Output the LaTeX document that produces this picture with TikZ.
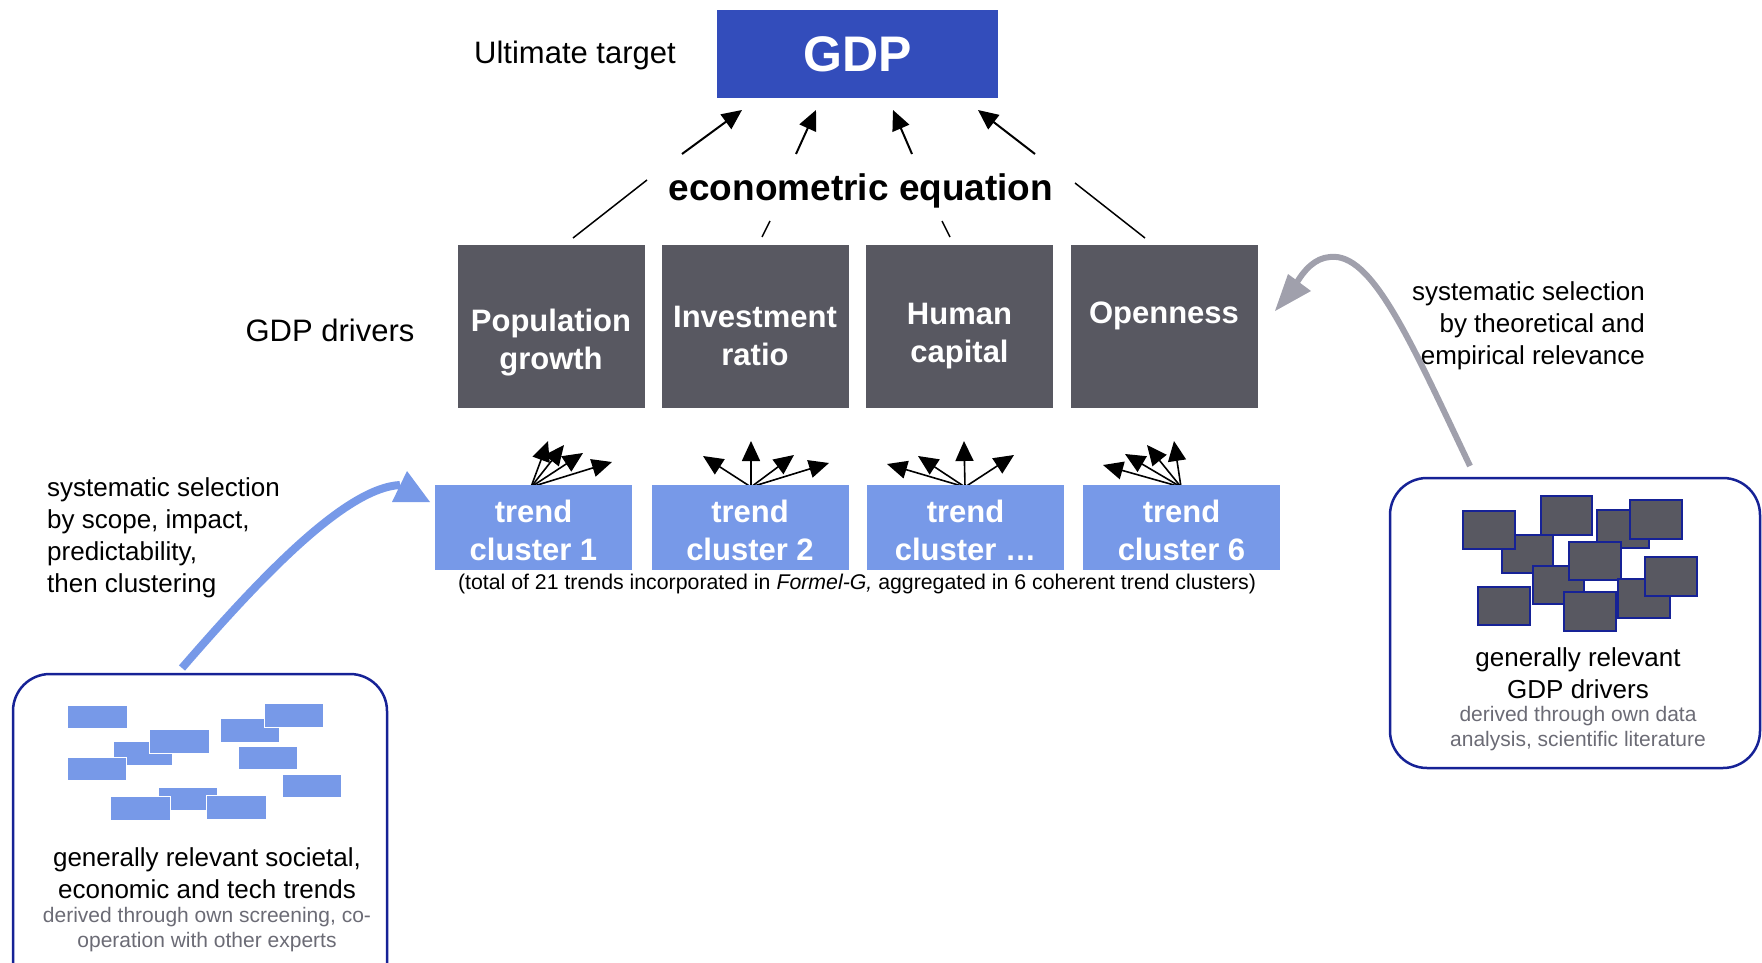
\documentclass[tikz,border=0pt]{standalone}
\usepackage{fontspec}
\setmainfont{Liberation Sans}
\usetikzlibrary{arrows.meta,calc}
\definecolor{gdpblue}{RGB}{51,77,187}
\definecolor{drvgray}{RGB}{88,88,97}
\definecolor{trblue}{RGB}{119,153,232}
\definecolor{navy}{RGB}{22,34,150}
\definecolor{argray}{RGB}{160,160,172}
\definecolor{txgray}{RGB}{107,107,117}
\begin{document}
\begin{tikzpicture}[x=1pt,y=-1pt,
  lbl/.style={inner sep=0, font=\fontsize{31}{38}\selectfont},
  side/.style={inner sep=0, font=\fontsize{26}{32}\selectfont},
  gtxt/.style={inner sep=0, text=txgray, align=center, font=\fontsize{21}{25}\selectfont},
  btxt/.style={inner sep=0, align=center, font=\fontsize{26}{32}\selectfont},
  wtxt/.style={inner sep=0, text=white, align=center, font=\bfseries\fontsize{31}{38}\selectfont},
  drvbox/.style={fill=drvgray, minimum width=187, minimum height=163, inner sep=0},
  trbox/.style={fill=trblue, minimum width=197, minimum height=85, inner sep=0},
  upar/.style={-{Triangle[length=20pt,width=18pt]}, line width=2pt},
  fan/.style={-{Triangle[length=20pt,width=18pt]}, line width=1.6pt},
  thin/.style={line width=1.5pt},
  scrib/.style={fill=trblue, draw=white, line width=1pt},
  drv/.style={fill=drvgray, draw=navy, line width=2.5pt},
  framebox/.style={draw=navy, line width=2.5pt, rounded corners=37pt}
]
\useasboundingbox (0,0) rectangle (1762,963);

% top
\node[fill=gdpblue, minimum width=281, minimum height=88, inner sep=0, text=white, font=\bfseries\fontsize{50}{60}\selectfont] (gdp) at (857.5,54) {GDP};
\node[lbl] (ult) at (575,55) {Ultimate target};
\node[inner sep=0, font=\bfseries\fontsize{37}{44}\selectfont] (eq) at (861,191) {econometric equation};

\coordinate (a1s) at (682,154); \coordinate (a1e) at (742,110);
\coordinate (a2s) at (796,154); \coordinate (a2e) at (816,110);
\coordinate (a3s) at (912,154); \coordinate (a3e) at (893,110);
\coordinate (a4s) at (1035,154); \coordinate (a4e) at (978,110);
\foreach \i in {1,...,4} \draw[upar] (a\i s) -- (a\i e);

% drivers
\node[lbl] (gdpd) at (330,330) {GDP drivers};
\node[drvbox] (pop) at (551,326.5) {};
\node[drvbox] (inv) at (755,326.5) {};
\node[drvbox] (hum) at (959.5,326.5) {};
\node[drvbox] (opn) at (1164,326.5) {};
\node[wtxt] (popt) at (551,343) {Population\\growth};
\node[wtxt] (invt) at (755,336) {Investment\\ratio};
\node[wtxt] (humt) at (959.5,336) {Human\\capital};
\node[wtxt] (opnt) at (1164,316) {Openness};

\coordinate (l1s) at (573,238); \coordinate (l1e) at (647,180);
\coordinate (l2s) at (762,237); \coordinate (l2e) at (770,221);
\coordinate (l3s) at (950,237); \coordinate (l3e) at (942,221);
\coordinate (l4s) at (1145,238); \coordinate (l4e) at (1075,183);
\foreach \i in {1,...,4} \draw[thin] (l\i s) -- (l\i e);

% fans (drawn first; their common origin sits on the box top)
\coordinate (o1) at (531,487); \coordinate (o2) at (751,487);
\coordinate (o3) at (965,487); \coordinate (o4) at (1181,487);
\foreach \k/\dx/\dy [count=\c] in {1/17/-46,1/33/-42,1/52/-34,1/81/-25,
  2/-48/-31,2/0/-46,2/43/-32,2/78/-24,
  3/-78/-23,3/-47/-31,3/-1/-46,3/49/-32,
  4/-78/-22,4/-56/-33,4/-34/-42,4/-7/-46} {
  \coordinate (ft\c) at ($(o\k)+(\dx,\dy)$);
  \draw[fan] (o\k) -- (ft\c);
}

% trend clusters
\node[trbox] (t1) at (533.5,527.5) {};
\node[trbox] (t2) at (750,527.5) {};
\node[trbox] (t3) at (965.5,527.5) {};
\node[trbox] (t4) at (1181.5,527.5) {};
\node[wtxt] (t1t) at (533.5,530.5) {trend\\cluster 1};
\node[wtxt] (t2t) at (750,530.5) {trend\\cluster 2};
\node[wtxt] (t3t) at (965.5,530.5) {trend\\cluster \ldots};
\node[wtxt] (t4t) at (1181.5,530.5) {trend\\cluster 6};
\node[inner sep=0, font=\fontsize{21.3}{25}\selectfont] (note) at (857,584) {(total of 21 trends incorporated in \textit{Formel-G,} aggregated in 6 coherent trend clusters)};

% left side text and arrow
\node[side, anchor=west, align=left] (lsel) at (47,538) {systematic selection\\by scope, impact,\\predictability,\\then clustering};
\coordinate (lbs) at (182,668);
\coordinate (lbe) at (400,485);
\draw[trblue, line width=8pt] (lbs) .. controls (260,578) and (345,488) .. (lbe);
\fill[trblue] (392,502) -- (430,502) -- (407,471) -- cycle;

% right side text and arrow
\node[side, anchor=east, align=right] (rsel) at (1645,326) {systematic selection\\by theoretical and\\empirical relevance};
\coordinate (rbs) at (1470,466);
\coordinate (rbp) at (1330,257);
\coordinate (rbe) at (1296,284);
\draw[argray, line width=6pt] (rbs) .. controls (1410,340) and (1372,252) .. (rbp) .. controls (1315,258) and (1304,270) .. (rbe);
\fill[argray] (1275,311) -- (1288,274) -- (1311,291) -- cycle;

% left box
\draw[framebox] (13,674) rectangle (387,1010);
\fill[scrib] (67,705) rectangle (127,728);
\fill[scrib] (113,741) rectangle (172,765);
\filldraw[scrib] (149,729) rectangle (209,753);
\filldraw[scrib] (67,757) rectangle (126,780);
\filldraw[scrib] (220,718) rectangle (279,742);
\filldraw[scrib] (264,703) rectangle (323,727);
\filldraw[scrib] (238,746) rectangle (297,769);
\filldraw[scrib] (282,774) rectangle (341,797);
\filldraw[scrib] (158,787) rectangle (217,810);
\filldraw[scrib] (110,796) rectangle (170,820);
\filldraw[scrib] (206,795) rectangle (266,819);
\node[btxt] (lbt) at (207,873) {generally relevant societal,\\economic and tech trends};
\node[gtxt] (lbg) at (207,930) {derived through own screening, co-\\operation with other experts};

% right box
\draw[framebox] (1390,478) rectangle (1760,768);
\filldraw[drv] (1502,535) rectangle (1553,573);
\filldraw[drv] (1463,511) rectangle (1515,549);
\filldraw[drv] (1541,496) rectangle (1592,535);
\filldraw[drv] (1597,510) rectangle (1649,548);
\filldraw[drv] (1630,500) rectangle (1682,539);
\filldraw[drv] (1533,566) rectangle (1584,604);
\filldraw[drv] (1569,542) rectangle (1621,580);
\filldraw[drv] (1618,579) rectangle (1670,618);
\filldraw[drv] (1645,557) rectangle (1697,596);
\filldraw[drv] (1478,587) rectangle (1530,625);
\filldraw[drv] (1564,592) rectangle (1616,631);
\node[btxt] (rbt) at (1578,673) {generally relevant\\GDP drivers};
\node[gtxt] (rbg) at (1578,729) {derived through own data\\analysis, scientific literature};
\end{tikzpicture}
\end{document}
